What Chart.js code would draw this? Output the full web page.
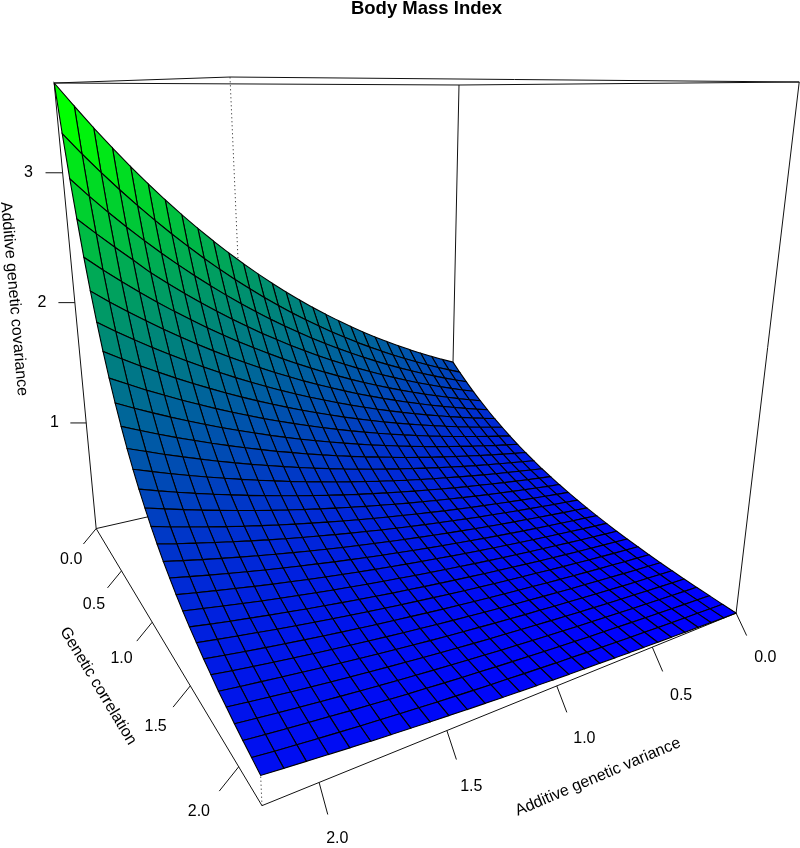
<!DOCTYPE html>
<html><head><meta charset="utf-8">
<script src="https://cdn.jsdelivr.net/npm/chart.js@4"></script>
<style>html,body{margin:0;padding:0;background:#fff}canvas{display:block}</style>
</head><body><canvas id="c" width="800" height="848"></canvas>
<script>
const variance=[0,0.0786,0.1571,0.2357,0.3143,0.3929,0.4714,0.55,0.6286,0.7071,0.7857,0.8643,0.9429,1.0214,1.1,1.1786,1.2571,1.3357,1.4143,1.4929,1.5714,1.65,1.7286,1.8071,1.8857,1.9643,2.0429,2.1214,2.2];
const correlation=[0,0.0733,0.1467,0.22,0.2933,0.3667,0.44,0.5133,0.5867,0.66,0.7333,0.8067,0.88,0.9533,1.0267,1.1,1.1733,1.2467,1.32,1.3933,1.4667,1.54,1.6133,1.6867,1.76,1.8333,1.9067,1.98,2.0533,2.1267,2.2];
const covariance=[
[.980,1.027,1.077,1.128,1.183,1.240,1.299,1.362,1.427,1.496,1.568,1.643,1.722,1.805,1.892,1.983,2.078,2.178,2.283,2.393,2.508,2.628,2.755,2.887,3.026,3.172,3.324,3.484,3.648],
[.907,.950,.994,1.041,1.090,1.142,1.195,1.252,1.311,1.372,1.437,1.505,1.576,1.650,1.727,1.809,1.894,1.983,2.076,2.174,2.276,2.384,2.496,2.613,2.736,2.865,3.000,3.141,3.292],
[.839,.878,.918,.961,1.005,1.052,1.100,1.151,1.204,1.260,1.318,1.379,1.442,1.509,1.579,1.652,1.728,1.808,1.891,1.979,2.070,2.166,2.266,2.370,2.480,2.594,2.714,2.840,2.974],
[.775,.810,.847,.885,.925,.967,1.011,1.057,1.105,1.155,1.207,1.262,1.319,1.379,1.442,1.507,1.576,1.647,1.722,1.800,1.882,1.967,2.056,2.150,2.247,2.358,2.466,2.578,2.695],
[.714,.746,.779,.814,.851,.889,.928,.970,1.013,1.058,1.106,1.155,1.207,1.261,1.317,1.376,1.437,1.502,1.569,1.639,1.712,1.789,1.869,1.952,2.039,2.130,2.226,2.325,2.432],
[.658,.687,.717,.749,.782,.816,.852,.890,.929,.970,1.013,1.057,1.104,1.153,1.203,1.256,1.312,1.369,1.430,1.493,1.559,1.627,1.699,1.774,1.852,1.934,2.019,2.108,2.203],
[.606,.632,.660,.688,.718,.750,.782,.816,.852,.889,.927,.968,1.010,1.054,1.100,1.147,1.197,1.249,1.304,1.360,1.419,1.481,1.546,1.613,1.683,1.756,1.832,1.912,1.997],
[.557,.581,.606,.632,.659,.687,.717,.748,.780,.813,.848,.885,.923,.962,1.004,1.047,1.092,1.139,1.188,1.239,1.292,1.348,1.406,1.466,1.529,1.595,1.663,1.735,1.809],
[.511,.533,.555,.579,.604,.629,.656,.684,.713,.744,.775,.808,.843,.879,.916,.955,.996,1.038,1.082,1.128,1.177,1.227,1.279,1.334,1.390,1.450,1.511,1.576,1.643],
[.468,.488,.508,.530,.552,.576,.600,.625,.652,.679,.708,.738,.769,.802,.836,.871,.908,.946,.986,1.028,1.072,1.117,1.164,1.213,1.265,1.318,1.374,1.432,1.493],
[.429,.447,.466,.485,.506,.527,.549,.572,.596,.621,.647,.675,.703,.732,.763,.795,.829,.863,.900,.937,.977,1.018,1.061,1.105,1.152,1.200,1.250,1.303,1.358],
[.392,.408,.426,.443,.462,.481,.501,.522,.544,.567,.591,.616,.641,.668,.696,.725,.756,.787,.820,.855,.891,.928,.967,1.007,1.050,1.094,1.139,1.187,1.235],
[.358,.373,.389,.405,.422,.439,.458,.477,.497,.517,.539,.561,.585,.609,.635,.661,.689,.718,.748,.779,.812,.846,.881,.918,.956,.996,1.038,1.081,1.126],
[.327,.341,.355,.370,.385,.401,.418,.435,.453,.472,.492,.512,.534,.556,.579,.603,.628,.655,.682,.710,.740,.771,.803,.836,.871,.907,.945,.985,1.027],
[.298,.310,.323,.337,.351,.366,.381,.397,.414,.431,.449,.468,.487,.508,.529,.551,.574,.598,.623,.649,.676,.704,.734,.765,.797,.830,.865,.901,.938],
[.271,.282,.294,.306,.319,.333,.347,.361,.376,.392,.408,.426,.443,.462,.481,.501,.522,.544,.567,.591,.615,.641,.668,.696,.725,.756,.787,.820,.857],
[.247,.257,.268,.279,.291,.304,.316,.330,.343,.358,.373,.389,.405,.422,.440,.458,.478,.498,.519,.541,.563,.587,.612,.638,.665,.693,.722,.752,.784],
[.224,.233,.243,.254,.264,.276,.287,.299,.312,.325,.339,.353,.368,.384,.400,.417,.435,.453,.472,.492,.513,.535,.558,.581,.606,.632,.658,.686,.715],
[.203,.212,.221,.230,.240,.250,.261,.272,.284,.296,.309,.322,.336,.350,.365,.381,.397,.414,.432,.450,.470,.490,.511,.532,.555,.579,.604,.630,.657],
[.184,.192,.200,.209,.218,.227,.237,.247,.258,.269,.281,.293,.306,.319,.333,.347,.362,.378,.394,.411,.429,.447,.467,.487,.508,.530,.553,.576,.601],
[.166,.173,.181,.189,.197,.206,.215,.224,.234,.244,.255,.266,.278,.290,.303,.316,.330,.344,.359,.375,.391,.408,.426,.445,.464,.485,.506,.528,.551],
[.150,.157,.164,.171,.178,.186,.195,.203,.212,.222,.232,.242,.253,.264,.276,.288,.301,.314,.328,.343,.358,.374,.390,.408,.426,.445,.464,.485,.507],
[.136,.142,.148,.155,.162,.170,.177,.185,.194,.202,.211,.221,.231,.241,.252,.264,.276,.288,.301,.315,.329,.344,.359,.375,.392,.410,.428,.447,.467],
[.122,.128,.133,.140,.146,.153,.160,.167,.175,.183,.191,.200,.209,.219,.229,.239,.250,.262,.274,.286,.299,.313,.327,.342,.358,.374,.391,.409,.429],
[.110,.115,.120,.126,.132,.138,.145,.151,.158,.166,.174,.182,.190,.199,.208,.218,.228,.239,.250,.262,.274,.287,.300,.314,.329,.344,.360,.377,.396],
[.099,.104,.109,.114,.119,.125,.131,.137,.144,.151,.158,.165,.173,.181,.190,.199,.208,.218,.229,.240,.251,.263,.276,.289,.303,.317,.332,.346,.362],
[.089,.093,.098,.103,.108,.113,.118,.124,.130,.136,.143,.150,.157,.165,.173,.181,.190,.199,.209,.219,.230,.241,.253,.265,.278,.291,.306,.321,.337],
[.080,.084,.088,.092,.097,.102,.107,.112,.118,.123,.130,.136,.143,.150,.157,.165,.173,.182,.191,.200,.210,.221,.232,.243,.255,.268,.281,.295,.310],
[.072,.076,.079,.083,.088,.092,.097,.102,.107,.112,.118,.124,.130,.137,.144,.151,.159,.167,.175,.184,.193,.203,.214,.224,.236,.248,.260,.273,.286],
[.064,.067,.071,.074,.078,.082,.087,.091,.096,.101,.106,.112,.117,.124,.130,.137,.144,.151,.159,.167,.176,.185,.195,.205,.216,.227,.239,.251,.265],
[.057,.060,.063,.067,.070,.074,.078,.082,.086,.091,.096,.101,.106,.112,.118,.124,.131,.138,.145,.153,.161,.170,.179,.188,.198,.209,.220,.231,.243]];
const xTicks=[0,0.5,1,1.5,2], yTicks=[0,0.5,1,1.5,2], zTicks=[1,2,3];
const xMax=2.2,yMax=2.2,zMin=.057,zMax=3.648;
const CAM=[[-416,58.5,44.5,459],[-19.11,-31.9,415,85],[-.2062,-.3525,.116,1]];
function project(u,v,w){ // u,v,w' in box units (w'=0 top,1 floor)
  const h=r=>r[0]*u+r[1]*v+r[2]*w+r[3], d=h(CAM[2]);
  return {x:h(CAM[0])/d,y:h(CAM[1])/d};
}
const P=(x,y,z,du=0,dv=0)=>project(x/xMax+du,y/yMax+dv,(zMax-z)/(zMax-zMin));
const ds=[];
const line=(a,b,extra={})=>ds.push({data:[a,b],borderColor:'#111',borderWidth:1,...extra});
const C=(x,y,z)=>P(x,y,z);
// box
[[0,0],[xMax,0],[0,yMax]].forEach(([x,y])=>line(C(x,y,zMin),C(x,y,zMax)));
line(C(xMax,yMax,zMin),C(xMax,yMax,zMax),{borderDash:[1,3]});
[[0,0,xMax,0],[xMax,0,xMax,yMax],[xMax,yMax,0,yMax],[0,yMax,0,0]].forEach(([a,b,c,d])=>{
  line(C(a,b,zMax),C(c,d,zMax));line(C(a,b,zMin),C(c,d,zMin));
});
// ticks
const labels=[];
xTicks.forEach(t=>{const u=t/xMax;
  line(C(t,yMax,zMin),P(t,yMax,zMin,.046-.032*u,.0625));
  labels.push([t.toFixed(1),P(t,yMax,zMin,.075-.055*u,.127-.028*u**4)]);});
yTicks.forEach(t=>{const v=t/yMax;
  line(C(xMax,t,zMin),P(xMax,t,zMin,.043,.063-.033*v));
  labels.push([t.toFixed(1),P(xMax,t,zMin,.082,.122-.072*v)]);});
zTicks.forEach(t=>{line(C(xMax,0,t),P(xMax,0,t,.031,-.018));labels.push([String(t),P(xMax,0,t,.062,-.036)]);});
// surface cells, far to near
const facet=(i,j)=>(covariance[j][i]+covariance[j][i+1]+covariance[j+1][i]+covariance[j+1][i+1])/4;
const fMin=facet(0,correlation.length-2),fMax=facet(variance.length-2,0);
for(let j=0;j<correlation.length-1;j++)for(let i=0;i<variance.length-1;i++){
  const q=[[i,j],[i+1,j],[i+1,j+1],[i,j+1],[i,j]];
  const t=Math.min(1,(facet(i,j)-fMin)/(fMax-fMin));
  ds.push({data:q.map(([a,b])=>P(variance[a],correlation[b],covariance[b][a])),borderColor:'#000',borderWidth:1.1,
    cellFill:`rgb(0,${Math.round(255*t)},${Math.round(255*(1-t))})`});
}
const surfacePlugin={id:'cellFill',beforeDatasetDraw(ch,a){
  const d=ch.data.datasets[a.index]; if(!d.cellFill)return;
  const pts=a.meta.data,c=ch.ctx;c.save();c.beginPath();pts.forEach((p,i)=>i?c.lineTo(p.x,p.y):c.moveTo(p.x,p.y));c.closePath();
  c.fillStyle=d.cellFill;c.fill();c.restore();
}};
const textPlugin={id:'texts',afterDraw(ch){
  const c=ch.ctx,sx=ch.scales.x,sy=ch.scales.y;c.save();c.fillStyle='#000';c.textAlign='center';c.textBaseline='middle';
  const tx=(s,x,y,rot,font)=>{c.save();c.translate(x,y);c.rotate(rot*Math.PI/180);c.font=font;c.fillText(s,0,0);c.restore();};
  const F='16px "Liberation Sans"';
  tx('Body Mass Index',426.5,9,0,'bold 18.5px "Liberation Sans"');
  labels.forEach(([s,p])=>tx(s,sx.getPixelForValue(p.x),sy.getPixelForValue(p.y),0,F));
  tx('Additive genetic covariance',14,299,85,F);
  tx('Genetic correlation',98,686,59,F);
  tx('Additive genetic variance',598,777,-23,F);
  c.restore();
}};
new Chart(document.getElementById('c'),{type:'scatter',
  data:{datasets:ds.slice().reverse().map(d=>({...d,showLine:true,pointRadius:0,tension:0,fill:false,clip:false}))},
  options:{responsive:false,animation:false,events:[],layout:{padding:0},
    plugins:{legend:{display:false},tooltip:{enabled:false},title:{display:false}},
    scales:{x:{type:'linear',display:false,min:0,max:800},y:{type:'linear',display:false,min:0,max:848,reverse:true}}},
  plugins:[surfacePlugin,textPlugin]});
</script></body></html>
